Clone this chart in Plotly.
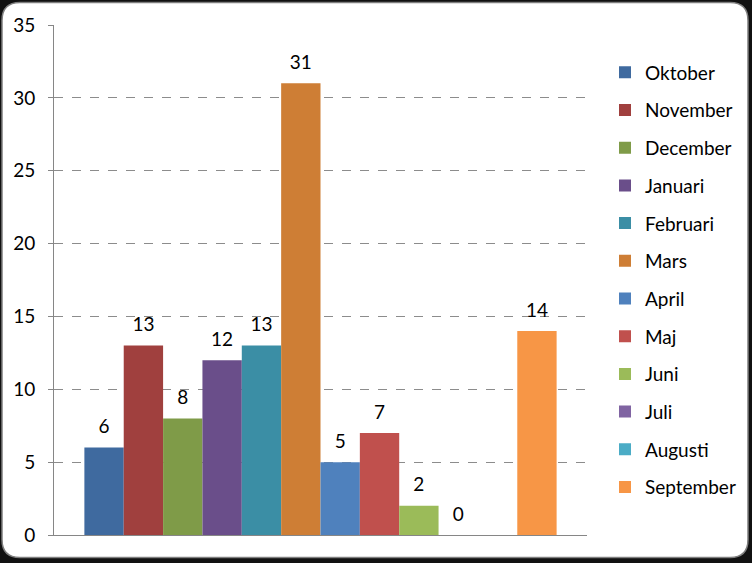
import plotly.graph_objects as go

months = ['Oktober', 'November', 'December', 'Januari', 'Februari', 'Mars',
          'April', 'Maj', 'Juni', 'Juli', 'Augusti', 'September']
values = [6, 13, 8, 12, 13, 31, 5, 7, 2, 0, None, 14]
colors = ['#3F6A9F', '#A0403E', '#7F9B48', '#6A4E8A', '#3B8EA5', '#CE7E35',
          '#4F81BD', '#C0504D', '#9BBB59', '#8064A2', '#4BACC6', '#F79646']
y_ticks = [0, 5, 10, 15, 20, 25, 30, 35]

# plot area in pixels, used to place the frame in paper coords
L, R, T, B = 54, 587, 24.5, 535.5


def px(x):
    return (x - L) / (R - L)


def py(y):
    return (B - y) / (B - T)


fig = go.Figure()
for m, v, c in zip(months, values, colors):
    fig.add_trace(go.Bar(x=[''], y=[v], name=m, marker_color=c, legendgroup=m,
                         marker_line_width=0, hoverinfo='name+y'))
# data labels, grouped the same way as the bars so they sit above them
for m, v in zip(months, values):
    fig.add_trace(go.Scatter(x=[''], y=[v], mode='markers+text', showlegend=False,
                             text=[v] if v is not None else None,
                             textposition='top center', hoverinfo='skip',
                             marker=dict(size=14, opacity=0), cliponaxis=False,
                             textfont=dict(size=19, color='black')))

# rounded white frame
x0, x1, y0, y1, r = 2, 748, 2, 558, 18
path = (f"M {px(x0+r)},{py(y0)} L {px(x1-r)},{py(y0)} "
        f"Q {px(x1)},{py(y0)} {px(x1)},{py(y0+r)} L {px(x1)},{py(y1-r)} "
        f"Q {px(x1)},{py(y1)} {px(x1-r)},{py(y1)} L {px(x0+r)},{py(y1)} "
        f"Q {px(x0)},{py(y1)} {px(x0)},{py(y1-r)} L {px(x0)},{py(y0+r)} "
        f"Q {px(x0)},{py(y0)} {px(x0+r)},{py(y0)} Z")
fig.add_shape(type='path', path=path, xref='paper', yref='paper',
              fillcolor='white', line=dict(color='#7f7f7f', width=1.5), layer='below')

fig.update_layout(
    width=752, height=563,
    margin=dict(l=L, r=752 - R, t=T, b=563 - B, autoexpand=False),
    paper_bgcolor='#111111', plot_bgcolor='rgba(0,0,0,0)',
    font=dict(family='Lato, Open Sans, sans-serif', size=19, color='black'),
    barmode='group', bargap=0.114, bargroupgap=0,
    scattermode='group', scattergap=0.114,
    showlegend=True,
    legend=dict(x=px(605), xanchor='left', y=py(53), yanchor='top',
                traceorder='grouped', tracegroupgap=10,
                font=dict(size=19), bgcolor='rgba(0,0,0,0)'),
    xaxis=dict(showticklabels=False, showline=True, linecolor='#868686',
               linewidth=1, showgrid=False, ticks='', automargin=False),
    yaxis=dict(range=[0, 35], tickvals=y_ticks, showline=True, linecolor='#868686',
               linewidth=1, showgrid=True, gridcolor='#8c8c8c', griddash='dash',
               gridwidth=1, ticks='outside', ticklen=5, tickcolor='#868686',
               ticklabelstandoff=9, zeroline=False, automargin=False),
)

# drop the browser's default page margin so the figure fills the window
fig.write_html("out.html", config={'displayModeBar': False},
               post_script="document.body.style.margin='0';")
